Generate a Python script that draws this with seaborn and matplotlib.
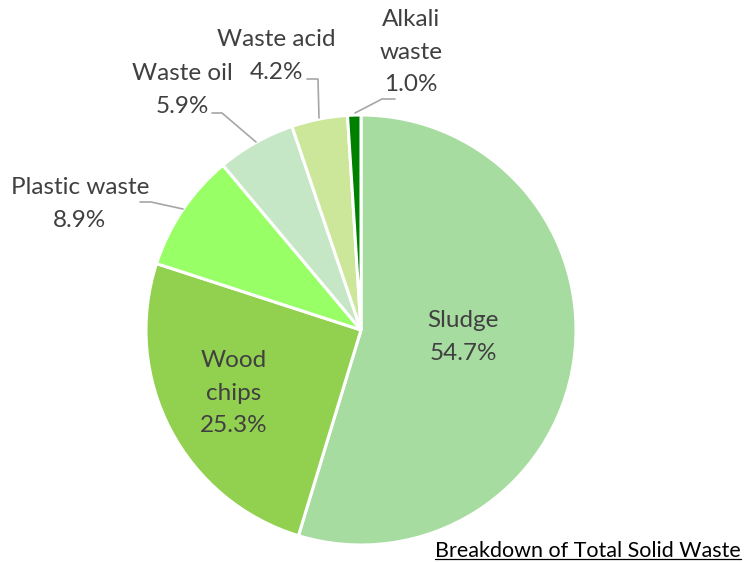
import matplotlib
matplotlib.use("Agg")
import matplotlib.pyplot as plt
import seaborn as sns

# Data
categories = ["Sludge", "Wood\nchips", "Plastic waste", "Waste oil", "Waste acid", "Alkali\nwaste"]
shares = [54.7, 25.3, 8.9, 5.9, 4.2, 1.0]
colors = ["#A6DCA0", "#92D050", "#99FF66", "#C6E7C6", "#CCE69A", "#008000"]

sns.set_style("white")
plt.rcParams["font.family"] = ["Lato", "DejaVu Sans"]
text_color = "#404040"

W, H = 744, 562
fig = plt.figure(figsize=(W / 100, H / 100), dpi=100)

# pie centre and radius in pixels
cx, cy, r = 361, 330, 215
ax = fig.add_axes([(cx - r) / W, (H - cy - r) / H, 2 * r / W, 2 * r / H])

wedges, _ = ax.pie(shares, colors=colors, startangle=90, counterclock=False,
                   radius=1, wedgeprops=dict(edgecolor="white", linewidth=2.2))
ax.set_xlim(-1, 1)
ax.set_ylim(-1, 1)
ax.set_aspect("equal")
ax.axis("off")


def px(x, y):
    return (x - cx) / r, (cy - y) / r


# label positions (pixels) and leader line points (pixels)
label_pos = [(463, 337), (234, 393), (80, 204), (182, 90), (276, 56), (411, 52)]
leaders = [None, None,
           [(140, 202), (151, 202), (183, 209)],
           [(212, 113), (222, 113), (256, 142)],
           [(307, 79), (318, 79), (319, 118)],
           [(395, 99), (382, 99), (355, 113)]]

for cat, val, pos, lead in zip(categories, shares, label_pos, leaders):
    x, y = px(*pos)
    ax.text(x, y, f"{cat}\n{val:.1f}%", ha="center", va="center",
            fontsize=17.5, color=text_color, linespacing=1.65, clip_on=False)
    if lead:
        xs, ys = zip(*[px(a, b) for a, b in lead])
        ax.plot(xs, ys, color="#A6A6A6", linewidth=1.2, clip_on=False)

# underlined caption
t = fig.text(741 / W, 1 - 551 / H, "Breakdown of Total Solid Waste", ha="right",
             va="center", fontsize=15.5, color="black")
fig.canvas.draw()
bb = t.get_window_extent().transformed(fig.transFigure.inverted())
fig.add_artist(plt.Line2D([bb.x0, bb.x1], [bb.y0 + 0.004, bb.y0 + 0.004],
                          transform=fig.transFigure, color="black", linewidth=0.9))

fig.savefig("out.png", dpi=100)
